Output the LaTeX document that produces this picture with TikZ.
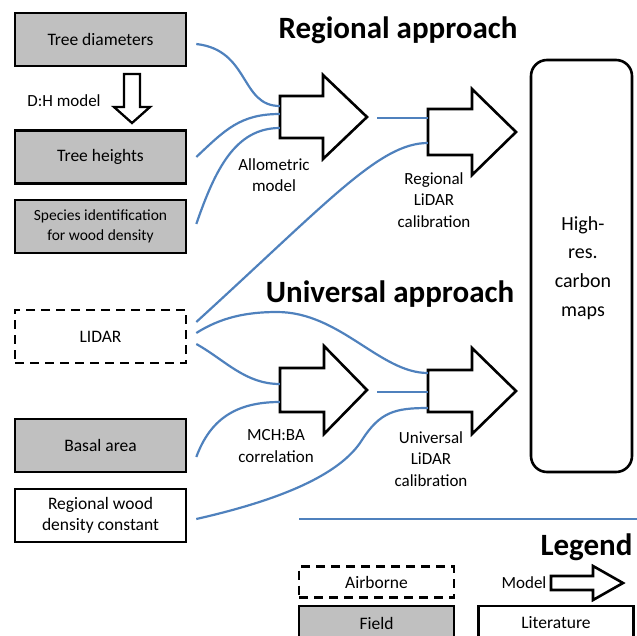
\documentclass[tikz,border=0pt]{standalone}
\usepackage{fontspec}
\setmainfont{Carlito}
\usetikzlibrary{calc}
\definecolor{connblue}{RGB}{79,129,189}
\definecolor{fieldgray}{RGB}{192,192,192}
\newcommand\blockarr[7]{% name, x tail, y centre, x head base, x tip, shaft half, head half
  \draw[barrow] (#2,#3-#6) -- (#4,#3-#6) -- (#4,#3-#7) -- (#5,#3) -- (#4,#3+#7) -- (#4,#3+#6) -- (#2,#3+#6) -- cycle;
  \node[inner sep=0pt, minimum width=#5-#2, minimum height=2*#7] (#1) at ({(#2+#5)/2},#3) {};
}
\begin{document}
\begin{tikzpicture}[x=1pt,y=-1pt,
  box/.style={draw=black, line width=2.6pt, minimum width=171pt, minimum height=53pt, inner sep=2pt, align=center, font=\fontsize{17.5}{21}\selectfont},
  fieldbox/.style={box, fill=fieldgray},
  airbox/.style={box, dash pattern=on 9pt off 6pt},
  litbox/.style={box, fill=white},
  conn/.style={draw=connblue, line width=2.2pt},
  barrow/.style={draw=black, line width=2.6pt, line join=miter, fill=white},
  lbl/.style={align=center, font=\fontsize{17}{21.5}\selectfont},
  title/.style={font=\bfseries\fontsize{31}{36}\selectfont, anchor=base},
]
\useasboundingbox (0,0) rectangle (637,635);
\clip (0,0) rectangle (637,635);

% input boxes
\node[fieldbox] (diam) at (100.5,39.5) {Tree diameters};
\node[fieldbox] (heights) at (100.5,157) {Tree heights};
\node[fieldbox, font=\fontsize{15.5}{19.5}\selectfont] (species) at (100.5,226.5) {Species identification\\for wood density};
\node[airbox] (lidar) at (100.5,336.5) {LIDAR};
\node[fieldbox] (basal) at (100.5,445.5) {Basal area};
\node[litbox] (wood) at (100.5,515.5) {Regional wood\\density constant};

% D:H model arrow
\draw[barrow, line width=2.3pt] (124,74) -- (140,74) -- (140,107) -- (150,107) -- (132,123) -- (114,107) -- (124,107) -- cycle;
\node[lbl] (dhlbl) at (64,101) {D:H model};

% block arrows
\blockarr{allo}{280}{117}{323}{367}{21}{42}
\blockarr{rcal}{428}{132}{472}{516}{23}{43}
\blockarr{mch}{280}{390}{324}{367}{22}{44}
\blockarr{ucal}{428}{391}{472}{516}{21}{43}

% output
\node[draw=black, line width=2.6pt, rounded corners=16pt, minimum width=101pt, minimum height=412pt] (maps) at (581.5,266) {};
\node[align=center, font=\fontsize{20}{28.7}\selectfont] (mapstxt) at (583,268) {High-\\res.\\carbon\\maps};

% titles
\node[title] (regtitle) at (398,38) {Regional approach};
\node[title] (unititle) at (390,302) {Universal approach};

% labels
\node[lbl] (allolbl) at (274,175) {Allometric\\model};
\node[lbl] (rcallbl) at (434,200) {Regional\\LiDAR\\calibration};
\node[lbl] (mchlbl) at (276,446) {MCH:BA\\correlation};
\node[lbl] (ucallbl) at (431,459) {Universal\\LiDAR\\calibration};

% connectors
\draw[conn] ($(diam.east)+(9,4.5)$) .. controls (250,50) and (240,106) .. ($(allo.west)+(0,-11)$);
\draw[conn] ($(heights.east)+(9,0)$) .. controls (225,130) and (240,114) .. ($(allo.west)+(0,-3)$);
\draw[conn] ($(species.east)+(9,-2.5)$) .. controls (215,170) and (235,128) .. ($(allo.west)+(0,11)$);
\draw[conn] ($(allo.east)+(10,1)$) -- ($(rcal.west)+(0,-14)$);
\draw[conn] ($(lidar.east)+(9,-14.5)$) .. controls (330,200) and (380,143) .. ($(rcal.west)+(0,11)$);
\draw[conn] ($(lidar.east)+(9,-3.5)$) .. controls (220,318) and (245,312) .. (277,312)
   .. controls (340,312) and (380,373) .. ($(ucal.west)+(0,-18)$);
\draw[conn] ($(lidar.east)+(9,7.5)$) .. controls (225,360) and (245,384) .. ($(mch.west)+(0,-6)$);
\draw[conn] ($(basal.east)+(9,11.5)$) .. controls (210,420) and (235,402) .. ($(mch.west)+(0,12)$);
\draw[conn] ($(mch.east)+(10,2)$) -- ($(ucal.west)+(0,1)$);
\draw[conn] ($(wood.east)+(9,3.5)$) .. controls (280,500) and (340,475) .. (362,440)
   .. controls (380,412) and (395,408) .. ($(ucal.west)+(0,17)$);

% separator
\coordinate (sepl) at (299,519);
\coordinate (sepr) at (637,519);
\draw[conn] (sepl) -- (sepr);

% legend
\node[title, anchor=base east] (legtitle) at (636,555) {Legend};
\node[airbox, minimum width=155pt, minimum height=31pt] (airleg) at (376.5,582) {Airborne};
\node[fieldbox, minimum width=155pt, minimum height=34pt] (fieldleg) at (376.5,623) {Field};
\node[litbox, minimum width=155pt, minimum height=34pt] (litleg) at (556,623) {Literature};
\node[lbl] (modellbl) at (524,583) {Model};
\blockarr{modelarr}{551}{583}{593}{623}{7}{17}
\end{tikzpicture}
\end{document}
